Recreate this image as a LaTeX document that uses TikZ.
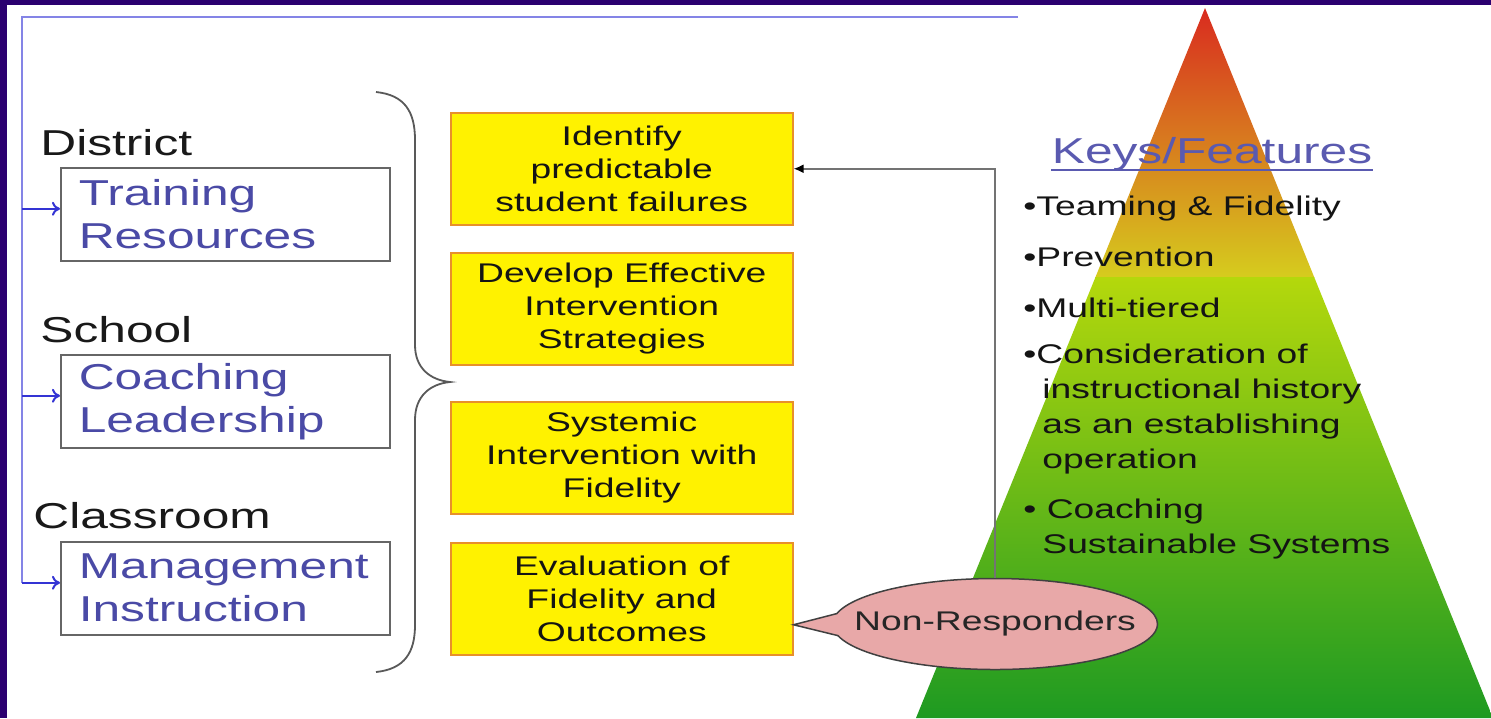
\documentclass[tikz,border=0pt]{standalone}
\usepackage{fontspec}
\setmainfont[FakeStretch=1.38]{Liberation Sans}
\usetikzlibrary{arrows.meta,shapes.callouts}
\definecolor{framecol}{HTML}{2B0070}
\definecolor{linkblue}{HTML}{8484E6}
\definecolor{tipblue}{HTML}{3434D4}
\definecolor{areatext}{HTML}{4A4AA6}
\definecolor{stepedge}{HTML}{E8902A}
\definecolor{nrfill}{HTML}{E8A8A8}
\definecolor{keysblue}{HTML}{5A5AB0}
\tikzset{
  tierlabel/.style={anchor=base west, inner sep=0pt, font=\fontsize{18}{21.5}\selectfont, text=black!90},
  areabox/.style={draw=black!60, line width=0.75pt, anchor=north west, minimum width=164.5pt,
    minimum height=46.5pt, text width=146.5pt, inner xsep=9pt, inner ysep=2pt, align=left,
    font=\fontsize{18}{21.5}\selectfont, text=areatext},
  stepbox/.style={draw=stepedge, fill=yellow, line width=0.75pt, anchor=north west,
    minimum width=171pt, minimum height=56pt, align=center,
    font=\fontsize{13.5}{16.5}\selectfont, text=black!92},
  keyitem/.style={anchor=base west, inner sep=0pt, align=left,
    font=\fontsize{13.5}{17.5}\selectfont, text=black!92},
  link/.style={linkblue, line width=1pt},
}
\begin{document}
\begin{tikzpicture}[x=0.5pt,y=-0.5pt]
\useasboundingbox (0,0) rectangle (1491,718);
\fill[white] (0,0) rectangle (1491,718);
% pyramid
\coordinate (apex) at (1205,8);
\coordinate (baseL) at (916,718);
\coordinate (baseR) at (1493,718);
\begin{scope}
  \clip (apex) -- (baseL) -- (baseR) -- cycle;
  \shade[top color={rgb,255:red,217;green,43;blue,31}, middle color={rgb,255:red,223;green,122;blue,36},
    bottom color={rgb,255:red,214;green,204;blue,30}] (900,8) rectangle (1500,277);
  \shade[top color={rgb,255:red,180;green,216;blue,12}, middle color={rgb,255:red,85;green,180;blue,30},
    bottom color={rgb,255:red,30;green,154;blue,34}] (900,277) rectangle (1500,718);
\end{scope}

\node[tierlabel] (district) at (40,155) {District};
\node[tierlabel] (school) at (40,342) {School};
\node[tierlabel] (classroom) at (33,528) {Classroom};
\node[areabox] (training) at (60,167) {Training\\Resources};
\node[areabox] (coaching) at (60,354) {Coaching\\Leadership};
\node[areabox] (management) at (60,541) {Management\\Instruction};

\coordinate (linkend) at (1018,17);
\coordinate (linkcorner) at (22,17);
\draw[link] (linkend) -- (linkcorner) -- ([yshift=2.75pt]management.west -| linkcorner);
\foreach \b in {training,coaching,management}
  \draw[tipblue, line width=1pt, -{To[length=4pt,width=7pt]}]
    ([yshift=2.75pt]\b.west -| linkcorner) -- ([yshift=2.75pt]\b.west);

% brace
\draw[black!65, line width=0.9pt] (376,92) .. controls (405,95) and (415,112) .. (415,140) -- (415,345)
  .. controls (415,368) and (430,380) .. (450,382) .. controls (430,384) and (415,396) .. (415,420)
  -- (415,625) .. controls (415,652) and (405,669) .. (376,672);

\node[stepbox] (identify) at (450,112) {Identify\\predictable\\student failures};
\node[stepbox] (develop) at (450,252) {Develop Effective\\Intervention\\Strategies};
\node[stepbox] (systemic) at (450,401) {Systemic\\Intervention with\\Fidelity};
\node[stepbox] (evaluate) at (450,542) {Evaluation of\\Fidelity and\\Outcomes};

\node[ellipse callout, draw=black!75, fill=nrfill, line width=0.75pt,
  callout absolute pointer={([yshift=-13pt]evaluate.east)}, callout pointer arc=28,
  inner xsep=-14pt, inner ysep=0pt, minimum width=162.5pt, minimum height=45.5pt,
  font=\fontsize{13.5}{16}\selectfont, text=black!85] (nonresp) at (995,624) {Non-Responders};
\draw[black!55, line width=1pt, -{Latex[length=5pt,width=4.5pt,color=black]}]
  (nonresp.north) |- (identify.east);

\node[anchor=base, inner sep=0pt, font=\fontsize{18}{21}\selectfont, text=keysblue] (keys) at (1212,163) {Keys/Features};
\draw[keysblue, line width=1.25pt] ([yshift=-3.5pt]keys.base west) -- ([yshift=-3.5pt]keys.base east);
% multi-line items sit on their last line
\node[keyitem] (k1) at (1023,215) {•Teaming \& Fidelity};
\node[keyitem] (k2) at (1023,266) {•Prevention};
\node[keyitem] (k3) at (1023,317) {•Multi-tiered};
\node[keyitem] (k4) at (1023,468) {•Consideration of\\\hspace*{9.5pt}instructional history\\\hspace*{9.5pt}as an establishing\\\hspace*{9.5pt}operation};
\node[keyitem] (k5) at (1023,553) {• Coaching\\\hspace*{9.5pt}Sustainable Systems};

\fill[framecol] (0,0) rectangle (7,718);
\fill[framecol] (0,0) rectangle (1491,5);
\end{tikzpicture}
\end{document}
